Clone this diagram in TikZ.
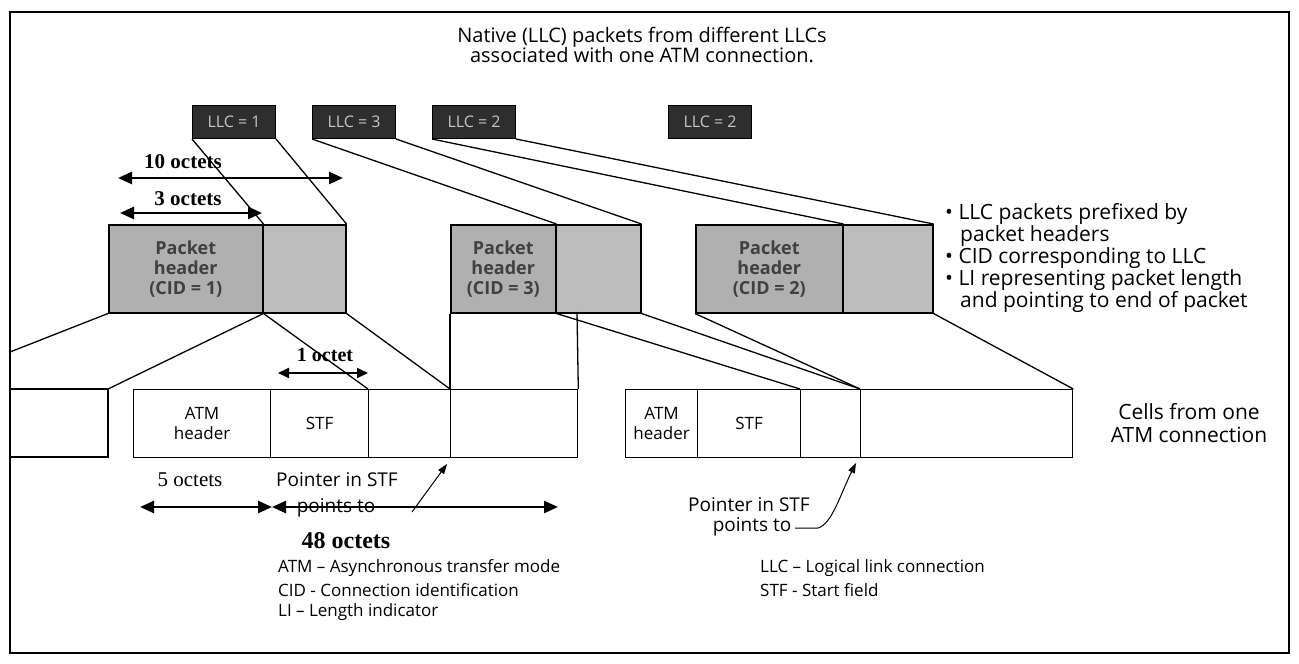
\documentclass[tikz,border=0pt]{standalone}
\usepackage{fontspec}
\setmainfont{Open Sans}
\newfontfamily\tms{Liberation Serif}
\usetikzlibrary{arrows.meta}
\begin{document}
\begin{tikzpicture}[x=1pt,y=-1pt,
  txt/.style={font=\fontsize{18}{22}\selectfont, inner sep=0pt},
  oct/.style={font=\tms\bfseries\fontsize{21}{23}\selectfont, inner sep=0pt},
  llc/.style={draw=black, line width=1pt, fill=black!82, text=gray!45, font=\fontsize{16}{18}\selectfont, minimum width=83pt, minimum height=33pt, anchor=north west, inner sep=0pt},
  hdr/.style={draw=black, line width=1.5pt, fill=gray!62, text=black!75, font=\bfseries\fontsize{18}{20}\selectfont, align=center, anchor=north west, inner sep=0pt, minimum height=88pt},
  pay/.style={draw=black, line width=1.5pt, fill=gray!52, anchor=north west, inner sep=0pt, minimum height=88pt},
  cell/.style={draw=black, line width=1.3pt, font=\fontsize{17}{20}\selectfont, align=center, anchor=north west, inner sep=0pt, minimum height=68pt},
  conn/.style={line width=1.3pt},
  dim/.style={line width=2.5pt, {Triangle[length=14pt,width=12pt]}-{Triangle[length=14pt,width=12pt]}},
  ptr/.style={line width=1pt, -{Triangle[length=10pt,width=7pt]}},
]
\useasboundingbox (0,0) rectangle (1299,664);
\draw[line width=1.5pt] (10,12) rectangle (1289,653);

% title
\node[txt, align=center, font=\fontsize{20}{20}\selectfont] (title) at (642,45) {Native (LLC) packets from different LLCs\\associated with one ATM connection.};

% LLC packets
\node[llc] (l1) at (192,105) {LLC = 1};
\node[llc] (l2) at (312,105) {LLC = 3};
\node[llc] (l3) at (432,105) {LLC = 2};
\node[llc] (l4) at (668,105) {LLC = 2};

% packets with headers
\node[hdr, minimum width=154pt] (p1h) at (108,224) {Packet\\header\\(CID = 1)};
\node[pay, minimum width=83pt] (p1p) at (262,224) {};
\node[hdr, minimum width=105pt] (p2h) at (450,224) {Packet\\header\\(CID = 3)};
\node[pay, minimum width=85pt] (p2p) at (555,224) {};
\node[hdr, minimum width=147pt] (p3h) at (695,224) {Packet\\header\\(CID = 2)};
\node[pay, minimum width=90pt] (p3p) at (842,224) {};

% bullets
\node[txt, anchor=north west, align=left, font=\fontsize{21}{22}\selectfont] (bul) at (945,203) {\textbullet\ LLC packets prefixed by\\\hspace*{15pt}packet headers\\\textbullet\ CID corresponding to LLC\\\textbullet\ LI representing packet length\\\hspace*{15pt}and pointing to end of packet};

% cells
\coordinate (a0) at (10,389);
\coordinate (a1) at (108,389);
\coordinate (a2) at (108,457);
\coordinate (a3) at (10,457);
\draw[conn] (a0) -- (a1) -- (a2) -- (a3);

\node[cell, minimum width=137pt] (b1) at (133,389) {ATM\\header};
\node[cell, minimum width=98pt] (b2) at (270,389) {STF};
\node[cell, minimum width=82pt] (b3) at (368,389) {};
\node[cell, minimum width=127pt] (b4) at (450,389) {};

\node[cell, minimum width=72pt] (c1) at (625,389) {ATM\\header};
\node[cell, minimum width=103pt] (c2) at (697,389) {STF};
\node[cell, minimum width=60pt] (c3) at (800,389) {};
\node[cell, minimum width=212pt] (c4) at (860,389) {};

\node[txt, align=center, font=\fontsize{21}{23}\selectfont] (cells) at (1189,423) {Cells from one\\ATM connection};

% connectors LLC -> packets
\draw[conn] (l1.south west) -- (p1h.north east);
\draw[conn] (l1.south east) -- (p1p.north east);
\draw[conn] (l2.south west) -- (p2h.north east);
\draw[conn] (l2.south east) -- (p2p.north east);
\draw[conn] (l3.south west) -- (p3h.north east);
\draw[conn] (l3.south east) -- (p3p.north east);

% connectors packets -> cells
\coordinate (aleft) at (10,352);
\coordinate (v577) at (577,312);
\draw[conn] (p1h.south west) -- (aleft);
\draw[conn] (p1h.south east) -- (a1);
\draw[conn] (p1h.south east) -- (b3.north west);
\draw[conn] (p1p.south east) -- (b4.north west);
\draw[conn] (p2h.south west) -- (b4.north west);
\draw[conn] (v577) -- (b4.north east);
\draw[conn] (p2h.south east) -- (c3.north west);
\draw[conn] (p2p.south east) -- (c4.north west);
\draw[conn] (p3h.south west) -- (c4.north west);
\draw[conn] (p3p.south east) -- (c4.north east);

% dimension arrows
\coordinate (d10a) at (118,178); \coordinate (d10b) at (343,178);
\draw[dim] (d10a) -- (d10b);
\node[oct] (t10) at (183,162) {10 octets};
\coordinate (d3a) at (120,213); \coordinate (d3b) at (262,213);
\draw[dim] (d3a) -- (d3b);
\node[oct] (t3) at (188,199) {3 octets};
\coordinate (d1a) at (278,373); \coordinate (d1b) at (368,373);
\node[oct, font=\tms\bfseries\fontsize{20}{22}\selectfont] (t1) at (325,355) {1 octet};
\draw[dim, line width=2pt, {Triangle[length=11pt,width=10pt]}-{Triangle[length=11pt,width=10pt]}] (d1a) -- (d1b);

\node[inner sep=0pt, font=\tms\fontsize{21}{23}\selectfont] (t5) at (190,480) {5 octets};
\node[txt, font=\fontsize{19}{22}\selectfont] (pa1) at (337,480) {Pointer in STF};
\node[txt, font=\fontsize{19}{22}\selectfont] (pa2) at (336,508) {points to};
\coordinate (d5a) at (140,507); \coordinate (d5b) at (272,507); \coordinate (d48b) at (558,507);
\draw[dim] (d5a) -- (d5b);
\draw[dim] (d5b) -- (d48b);
\node[oct, font=\tms\bfseries\fontsize{24}{26}\selectfont] (t48) at (346,541) {48 octets};
\coordinate (q1s) at (412,512);
\coordinate (q1e) at (447,464);
\draw[ptr] (q1s) -- (q1e);

\node[txt, font=\fontsize{19}{22}\selectfont] (pb1) at (749,505) {Pointer in STF};
\node[txt, font=\fontsize{19}{22}\selectfont] (pb2) at (752,527) {points to};
\coordinate (q2s) at (795,528);
\coordinate (q2m) at (818,528);
\coordinate (q2e) at (856,463);
\draw[ptr] (q2s) -- (q2m) .. controls (832,524) and (840,495) .. (q2e);

% legend
\node[txt, anchor=west, font=\fontsize{17}{22}\selectfont] (lg1) at (278,568) {ATM – Asynchronous transfer mode};
\node[txt, anchor=west, font=\fontsize{17}{22}\selectfont] (lg2) at (278,590) {CID - Connection identification};
\node[txt, anchor=west, font=\fontsize{17}{22}\selectfont] (lg3) at (278,612) {LI – Length indicator};
\node[txt, anchor=west, font=\fontsize{17}{22}\selectfont] (lg4) at (760,568) {LLC – Logical link connection};
\node[txt, anchor=west, font=\fontsize{17}{22}\selectfont] (lg5) at (760,590) {STF - Start field};
\end{tikzpicture}
\end{document}
